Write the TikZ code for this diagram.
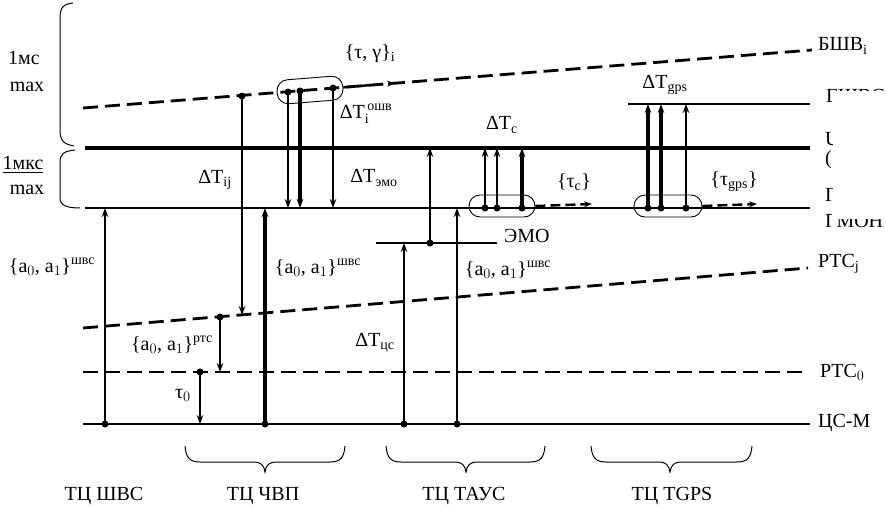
\documentclass[tikz,border=0pt]{standalone}
\usepackage{amsmath}
\usepackage{fontspec}
\setmainfont{Liberation Serif}
\usetikzlibrary{arrows.meta,calc}
\begin{document}
\begin{tikzpicture}[x=1pt,y=-1pt,
  font=\fontsize{20}{23}\selectfont,
  lbl/.style={inner sep=0pt},
  dsh/.style={line width=2.8pt,dash pattern=on 15pt off 7pt},
  dsharr/.style={line width=2.4pt,dash pattern=on 10pt off 5pt,-{Stealth[length=8pt,width=6pt]}},
  varr/.style={line width=2.6pt,-{Stealth[length=9pt,width=6.5pt]}},
  grp/.style={draw,line width=0.9pt,rounded corners=11pt,inner sep=0pt},
  brc/.style={line width=1pt},
  dotr/.style={fill=black}]
\useasboundingbox (0,0) rectangle (886,509);

% level coordinates
\coordinate (bL) at (83,108);  \coordinate (bR) at (812,50);
\coordinate (shL) at (628,104); \coordinate (shR) at (810,104);
\coordinate (uL) at (85,148);  \coordinate (uR) at (810,148);
\coordinate (gL) at (85,208);  \coordinate (gR) at (810,208);
\coordinate (eL) at (376,243); \coordinate (eR) at (497,243);
\coordinate (pjL) at (83,328); \coordinate (pjR) at (808,268);
\coordinate (p0L) at (83,372); \coordinate (p0R) at (808,372);
\coordinate (cL) at (83,424);  \coordinate (cR) at (810,424);

% levels
\draw[dsh] (bL) -- (bR);
\draw[line width=1.6pt] (shL) -- (shR);
\draw[line width=3.4pt] (uL) -- (uR);
\draw[line width=2.2pt] (gL) -- (gR);
\draw[line width=1.4pt] (eL) -- (eR);
\draw[dsh] (pjL) -- (pjR);
\draw[dsh] (p0L) -- (p0R);
\draw[line width=2.6pt] (cL) -- (cR);

% vertical arrow endpoints
\coordinate (s1) at (105,424); \coordinate (e1) at (105,208);
\coordinate (s2) at (242,96);  \coordinate (e2) at (242,315);
\coordinate (s3) at (220,317); \coordinate (e3) at (220,372);
\coordinate (s4) at (200,372); \coordinate (e4) at (200,424);
\coordinate (s5) at (265,424); \coordinate (e5) at (265,208);
\coordinate (s6) at (288,92);  \coordinate (e6) at (288,208);
\coordinate (s7) at (300,91);  \coordinate (e7) at (300,208);
\coordinate (s8) at (333,88);  \coordinate (e8) at (333,208);
\coordinate (s9) at (430,243); \coordinate (e9) at (430,148);
\coordinate (s10) at (404,424); \coordinate (e10) at (404,243);
\coordinate (s11) at (457,424); \coordinate (e11) at (457,208);
\coordinate (s12) at (485,208); \coordinate (e12) at (485,148);
\coordinate (s13) at (497,208); \coordinate (e13) at (497,148);
\coordinate (s14) at (522,208); \coordinate (e14) at (522,148);
\coordinate (s15) at (648,208); \coordinate (e15) at (648,104);
\coordinate (s16) at (661,208); \coordinate (e16) at (661,104);
\coordinate (s17) at (686,208); \coordinate (e17) at (686,104);

\draw[varr] (s1) -- (e1);
\draw[varr] (s2) -- (e2);
\draw[varr,line width=2.3pt] (s3) -- (e3);
\draw[varr,line width=2.3pt] (s4) -- (e4);
\draw[varr,line width=4.2pt] (s5) -- (e5);
\draw[varr] (s6) -- (e6);
\draw[varr,line width=3.6pt] (s7) -- (e7);
\draw[varr,line width=2.2pt] (s8) -- (e8);
\draw[varr] (s9) -- (e9);
\draw[varr] (s10) -- (e10);
\draw[varr,line width=2.3pt] (s11) -- (e11);
\draw[varr] (s12) -- (e12);
\draw[varr] (s13) -- (e13);
\draw[varr,line width=3.6pt] (s14) -- (e14);
\draw[varr,line width=3.2pt] (s15) -- (e15);
\draw[varr,line width=3.2pt] (s16) -- (e16);
\draw[varr] (s17) -- (e17);

\foreach \n in {s1,s2,s3,s4,s5,s6,s7,s8,s9,s10,s11,s12,s13,s14,s15,s16,s17}
  \fill[dotr] (\n) circle (3.5pt);

% groups
\node[grp,minimum width=66pt,minimum height=24pt,rotate=4.5] (g1) at (310,90) {};
\node[grp,minimum width=66pt,minimum height=22pt] (g2) at (502,206) {};
\node[grp,minimum width=68pt,minimum height=22pt] (g3) at (668,206) {};

\coordinate (d1) at (395,83);
\coordinate (d2) at (592,204);
\coordinate (d3) at (757,204);
\draw[dsharr] (g1.east) -- (d1);
\draw[dsharr] (g2.east) -- (d2);
\draw[dsharr] (g3.east) -- (d3);

% labels
\node[lbl] (tg) at (370,54) {\{τ, γ\}$_{\text{i}}$};
\node[lbl] (dTo) at (366,114) {$\text{ΔT}_{\text{i}}^{\,\text{ошв}}$};
\node[lbl] (dTe) at (374,178) {$\text{ΔT}_{\text{эмо}}$};
\node[lbl] (dTc) at (502,125) {$\text{ΔT}_{\text{c}}$};
\node[lbl] (dTij) at (215,180) {$\text{ΔT}_{\text{ij}}$};
\node[lbl] (dTg) at (665,85) {$\text{ΔT}_{\text{gps}}$};
\node[lbl] (tc) at (574,182) {\{τ$_{\text{c}}$\}};
\node[lbl] (tgps) at (734,182) {\{τ$_{\text{gps}}$\}};
\node[lbl] (aL) at (52,267) {\{a$_0$, a$_1$\}$^{\text{швс}}$};
\node[lbl] (aM) at (318,268) {\{a$_0$, a$_1$\}$^{\text{швс}}$};
\node[lbl] (aR) at (508,270) {\{a$_0$, a$_1$\}$^{\text{швс}}$};
\node[lbl] (aP) at (172,345) {\{a$_0$, a$_1$\}$^{\text{ртс}}$};
\node[lbl] (t0) at (183,395) {τ$_0$};
\node[lbl] (dTcs) at (375,343) {$\text{ΔT}_{\text{цс}}$};
\node[lbl,anchor=west] (emo) at (504,236) {ЭМО};

% right labels
\node[lbl,anchor=west] (rB) at (818,46) {$\text{БШВ}_{\text{i}}$};
\node[lbl,anchor=west] (rS) at (826,96) {ГШВС};
\fill[white] (834,91) rectangle (886,108);
\begin{scope}
  \clip (820,125) rectangle (832,206);
  \node[lbl,anchor=west] (rU) at (825,139) {UTC};
  \node[lbl,anchor=west] (rU2) at (825,160) {(SU)};
  \node[lbl,anchor=west] (rG1) at (825,195) {ГМОН};
\end{scope}
\node[lbl,anchor=west] (rG2) at (825,221) {ГМОН};
\fill[white] (832,210) rectangle (886,219);
\node[lbl,anchor=west] (rPj) at (818,264) {PTC$_{\text{j}}$};
\node[lbl,anchor=west] (rP0) at (820,372) {PTC$_0$};
\node[lbl,anchor=west] (rC) at (818,423) {ЦС-М};

% left braces and labels
\draw[brc] (73,3) .. controls (63,4) and (60,8) .. (60,18) -- (60,130)
  .. controls (60,140) and (63,144) .. (74,146);
\draw[brc] (75,150) .. controls (64,151) and (60,154) .. (60,162) -- (60,198)
  .. controls (60,205) and (66,208) .. (80,208);
\node[lbl] (l1) at (24,58) {1мс};
\node[lbl] (l2) at (27,87) {max};
\node[lbl] (l3) at (23,165) {\underline{1мкс}};
\node[lbl] (l4) at (27,190) {max};

% bottom braces
\foreach \a/\m/\b in {185/265/345, 386/466/545, 591/670/752}{
  \draw[brc] (\a,446) .. controls (\a+1,458) and (\a+5,462) .. (\a+15,462)
    -- (\m-12,462) .. controls (\m-4,462) and (\m-1,465) .. (\m,472)
    .. controls (\m+1,465) and (\m+4,462) .. (\m+12,462)
    -- (\b-15,462) .. controls (\b-5,462) and (\b-1,458) .. (\b,446);
}
\node[lbl] (b1) at (104,496) {ТЦ ШВС};
\node[lbl] (b2) at (263,496) {ТЦ ЧВП};
\node[lbl] (b3) at (464,496) {ТЦ ТАУС};
\node[lbl] (b4) at (672,496) {ТЦ TGPS};
\end{tikzpicture}
\end{document}
